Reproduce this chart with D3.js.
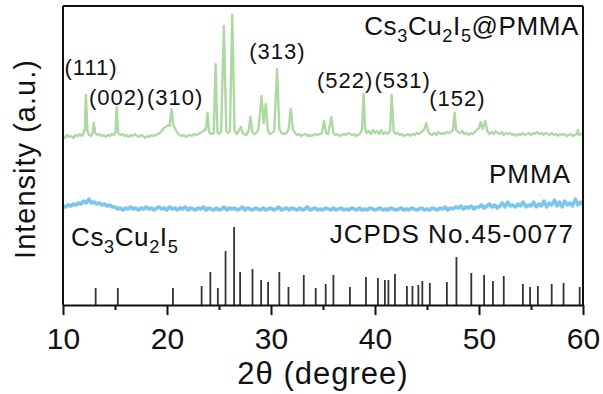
<!DOCTYPE html>
<html>
<head>
<meta charset="utf-8">
<script src="https://cdn.jsdelivr.net/npm/d3@7"></script>
<style>
  body { margin: 0; background: #fff; }
  text { font-family: "Liberation Sans", Arial, sans-serif; fill: #111; }
</style>
</head>
<body>
<div id="chart"></div>
<script>
// XRD patterns: Cs3Cu2I5@PMMA, PMMA and reference sticks

// Cs3Cu2I5@PMMA pattern, [2theta, intensity above its own baseline]
const compositeData = [
  [10.0, 1], [10.2, -1], [10.4, 2], [10.6, 0], [10.8, 1], [11.0, -1], [11.2, 2], [11.4, 1], [11.6, 3], [11.8, 1],
  [12.0, 4], [12.1, 8], [12.2, 42], [12.35, 6], [12.5, 2], [12.7, 1], [12.85, 4], [12.95, 14], [13.1, 4], [13.3, 2],
  [13.5, 3], [13.7, 1], [13.9, 2], [14.1, 0], [14.3, 2], [14.5, 1], [14.7, 3], [14.9, 2], [15.05, 5], [15.16, 30],
  [15.3, 4], [15.5, 2], [15.7, 3], [15.9, 1], [16.1, 2], [16.3, 0], [16.5, 2], [16.7, 1], [16.9, 3], [17.1, 1],
  [17.3, 0], [17.5, 2], [17.7, 1], [17.9, -1], [18.1, 1], [18.3, 0], [18.5, 2], [18.7, 1], [18.9, 2], [19.1, 3],
  [19.3, 4], [19.5, 6], [19.7, 9], [19.9, 10], [20.1, 12], [20.25, 11], [20.44, 28], [20.6, 12], [20.8, 8], [21.0, 4],
  [21.2, 2], [21.4, 1], [21.6, 2], [21.8, 0], [22.0, 1], [22.2, 2], [22.4, 1], [22.6, 3], [22.8, 2], [23.0, 3],
  [23.2, 4], [23.5, 6], [23.75, 8], [23.9, 24], [24.05, 5], [24.2, 3], [24.5, 4], [24.67, 73], [24.85, 5], [25.0, 3],
  [25.2, 5], [25.47, 111], [25.7, 6], [25.9, 4], [26.05, 6], [26.27, 122], [26.5, 6], [26.7, 3], [26.9, 6], [27.1, 10],
  [27.25, 4], [27.4, 3], [27.6, 2], [27.85, 6], [28.03, 20], [28.2, 5], [28.4, 3], [28.6, 4], [28.8, 8], [29.09, 41],
  [29.3, 14], [29.5, 33], [29.7, 6], [29.9, 3], [30.1, 4], [30.3, 6], [30.59, 68], [30.8, 8], [31.0, 4], [31.2, 3],
  [31.5, 4], [31.7, 8], [31.9, 28], [32.1, 8], [32.3, 4], [32.5, 2], [32.7, 3], [32.9, 1], [33.1, 2], [33.3, 3],
  [33.5, 1], [33.7, 2], [33.9, 1], [34.1, 2], [34.3, 3], [34.5, 2], [34.7, 3], [34.9, 4], [35.1, 16], [35.3, 4],
  [35.5, 3], [35.8, 20], [36.0, 4], [36.2, 2], [36.4, 3], [36.6, 1], [36.8, 2], [37.0, 3], [37.2, 2], [37.4, 4],
  [37.6, 3], [37.8, 2], [38.0, 3], [38.2, 1], [38.4, 2], [38.6, 4], [38.75, 8], [38.91, 43], [39.05, 8], [39.2, 4],
  [39.4, 6], [39.6, 3], [39.8, 7], [40.0, 4], [40.2, 6], [40.4, 3], [40.6, 7], [40.8, 3], [41.0, 5], [41.2, 3],
  [41.45, 6], [41.6, 42], [41.8, 5], [42.0, 3], [42.2, 4], [42.4, 2], [42.6, 3], [42.8, 1], [43.0, 2], [43.2, 3],
  [43.4, 1], [43.6, 3], [43.8, 2], [44.0, 4], [44.2, 3], [44.5, 5], [44.75, 8], [44.94, 14], [45.1, 6], [45.3, 3],
  [45.5, 2], [45.7, 4], [45.9, 2], [46.1, 5], [46.3, 3], [46.5, 4], [46.7, 3], [46.9, 5], [47.1, 4], [47.3, 5],
  [47.5, 7], [47.66, 24], [47.8, 7], [48.0, 5], [48.2, 4], [48.4, 6], [48.6, 3], [48.8, 4], [49.0, 2], [49.2, 4],
  [49.4, 3], [49.6, 5], [49.8, 7], [50.0, 9], [50.15, 15], [50.35, 8], [50.6, 16], [50.8, 6], [51.0, 3], [51.2, 5],
  [51.4, 3], [51.6, 6], [51.8, 4], [52.0, 3], [52.2, 5], [52.4, 2], [52.6, 4], [52.8, 3], [53.0, 4], [53.2, 2],
  [53.4, 3], [53.6, 1], [53.8, 3], [54.0, 2], [54.2, 4], [54.4, 2], [54.6, 3], [54.8, 4], [55.0, 2], [55.2, 4],
  [55.4, 3], [55.6, 5], [55.8, 3], [56.0, 4], [56.2, 2], [56.4, 4], [56.6, 3], [56.8, 2], [57.0, 4], [57.2, 2],
  [57.4, 3], [57.6, 1], [57.8, 3], [58.0, 2], [58.2, 3], [58.4, 1], [58.6, 2], [58.8, 3], [59.0, 1], [59.2, 2],
  [59.4, 3], [59.5, 7], [59.6, 2], [59.8, 3], [60.0, 2],
];

// PMMA pattern, sampled every 0.25 degree from 10 to 60
const pmmaStart = 10;
const pmmaStep = 0.25;
const pmmaValues = [
  4, 3, 5, 4, 6, 5, 7, 6, 9, 7, 11, 7, 8, 6, 7, 5, 6, 4, 5, 3,
  3, 1, 2, 0, 2, 1, 3, 1, 2, 0, 2, 1, 3, 1, 2, 0, 2, 3, 1, 2,
  0, 3, 1, 2, 0, 2, 1, 3, 0, 2, 1, 0, 2, 1, 3, 0, 2, 1, 0, 2,
  0, 1, 3, 0, 2, 1, 2, 0, 1, 3, 0, 2, 1, 0, 2, 1, 0, 2, 0, 1,
  2, 0, 1, 3, 0, 1, 2, 0, 2, 1, 0, 2, 0, 1, 3, 0, 1, 2, 0, 1,
  0, 2, 1, 0, 2, 0, 1, 2, 0, 1, 0, 2, 1, 0, 2, 0, 1, 0, 2, 1,
  0, 1, 2, 0, 1, 0, 2, 1, 0, 1, 2, 0, 1, 0, 2, 1, 0, 1, 2, 0,
  1, 0, 2, 1, 0, 2, 1, 3, 0, 2, 1, 3, 2, 4, 1, 3, 2, 4, 1, 3,
  3, 5, 2, 4, 6, 3, 5, 2, 4, 7, 3, 8, 4, 5, 3, 6, 4, 8, 3, 5,
  4, 8, 3, 6, 4, 9, 3, 7, 5, 10, 4, 8, 3, 9, 5, 7, 4, 11, 5, 8,
  5,
];

// JCPDS No.45-0077 reference lines
const refAngles = [
  13.14, 15.27, 20.57, 23.33, 24.17, 24.89, 25.63, 26.45, 27.03, 28.22,
  29.05, 29.72, 30.80, 31.68, 33.15, 34.30, 35.26, 36.00, 37.59, 39.13,
  40.28, 40.95, 41.29, 41.92, 43.07, 43.60, 44.17, 44.55, 45.27, 46.91,
  47.83, 49.26, 50.49, 51.34, 52.38, 54.22, 54.91, 55.66, 56.99, 58.13,
  59.68,
];
const refIntensity = [
  17, 17, 17, 19, 33, 17, 54, 78, 33, 36,
  25, 23, 33, 18, 30, 17, 21, 30, 18, 28,
  27, 25, 25, 31, 19, 19, 20, 24, 22, 23,
  48, 32, 30, 24, 29, 21, 18, 19, 21, 22,
  18,
];

// stacking offsets of the patterns
const compositeOffset = 168;
const pmmaOffset = 95;

// peak labels: [label, 2theta, height]
const peakLabels = [
  ['(111)', 10.15, 230],
  ['(002)', 12.5, 200],
  ['(310)', 18.08, 200],
  ['(313)', 27.9, 246],
  ['(522)', 34.42, 217],
  ['(531)', 39.95, 217],
  ['(152)', 45.22, 199],
];

const xTicks = [10, 20, 30, 40, 50, 60];
const xMinorTicks = [15, 25, 35, 45, 55];

const W = 603;
const H = 394;
const plot = { left: 63, right: 583, top: 6, bottom: 305 };

const svg = d3.select('#chart').append('svg')
  .attr('width', W)
  .attr('height', H);

const xScale = d3.scaleLinear().domain([10, 60]).range([plot.left, plot.right]);
const yScale = d3.scaleLinear().domain([0, 299]).range([plot.bottom, plot.top]);

const line = d3.line()
  .x(d => xScale(d[0]))
  .y(d => yScale(d[1]));

// reference sticks
svg.append('g')
  .selectAll('line')
  .data(refAngles)
  .join('line')
  .attr('x1', d => xScale(d))
  .attr('x2', d => xScale(d))
  .attr('y1', yScale(0))
  .attr('y2', (d, i) => yScale(refIntensity[i]))
  .attr('stroke', '#333')
  .attr('stroke-width', 1.8);

// PMMA trace
const pmmaData = pmmaValues.map((v, i) => [pmmaStart + i * pmmaStep, v + pmmaOffset]);
svg.append('path')
  .datum(pmmaData)
  .attr('fill', 'none')
  .attr('stroke', '#7cc6ee')
  .attr('stroke-width', 3.5)
  .attr('stroke-linejoin', 'round')
  .attr('d', line);

// composite trace
svg.append('path')
  .datum(compositeData.map(d => [d[0], d[1] + compositeOffset]))
  .attr('fill', 'none')
  .attr('stroke', '#acd9a2')
  .attr('stroke-width', 2.4)
  .attr('stroke-linejoin', 'round')
  .attr('d', line);

// frame
const frame = svg.append('g').attr('stroke', '#111').attr('stroke-width', 2);
frame.append('line').attr('x1', plot.left).attr('x2', plot.right).attr('y1', plot.top).attr('y2', plot.top);
frame.append('line').attr('x1', plot.left).attr('x2', plot.left).attr('y1', plot.top).attr('y2', plot.bottom);
frame.append('line').attr('x1', plot.right).attr('x2', plot.right).attr('y1', plot.top).attr('y2', plot.bottom);

// x axis, major and minor ticks
const xAxis = svg.append('g')
  .attr('transform', `translate(0,${plot.bottom})`)
  .call(d3.axisBottom(xScale).tickValues(xTicks).tickSize(10).tickSizeOuter(0).tickPadding(13));
xAxis.select('.domain').attr('stroke', '#111').attr('stroke-width', 2);
xAxis.selectAll('.tick line').attr('stroke', '#111').attr('stroke-width', 2);
xAxis.selectAll('.tick text')
  .attr('font-size', 30)
  .attr('font-family', '"Liberation Sans", Arial, sans-serif')
  .attr('fill', '#111');

const xMinor = svg.append('g')
  .attr('transform', `translate(0,${plot.bottom})`)
  .call(d3.axisBottom(xScale).tickValues(xMinorTicks).tickSize(5).tickFormat(''));
xMinor.select('.domain').remove();
xMinor.selectAll('.tick line').attr('stroke', '#111').attr('stroke-width', 2);
xMinor.selectAll('.tick text').remove();

// axis titles
svg.append('text')
  .attr('x', (plot.left + plot.right) / 2)
  .attr('y', 384)
  .attr('text-anchor', 'middle')
  .attr('font-size', 31)
  .attr('letter-spacing', 1)
  .text('2\u03b8 (degree)');

svg.append('text')
  .attr('transform', 'translate(35,159) rotate(-90)')
  .attr('text-anchor', 'middle')
  .attr('font-size', 29)
  .attr('letter-spacing', 1)
  .text('Intensity (a.u.)');

// formula label with subscripts: the shift is undone on the next part
function formula(t, parts, size) {
  let shift = 0;
  parts.forEach(p => {
    const span = t.append('tspan').text(p.t);
    if (p.sub) {
      span.attr('font-size', size * 0.7).attr('dy', 7);
      shift = 7;
    } else if (shift) {
      span.attr('dy', -shift);
      shift = 0;
    }
  });
}

const compositeLabel = svg.append('text')
  .attr('x', 579)
  .attr('y', 35)
  .attr('text-anchor', 'end')
  .attr('font-size', 26)
  .attr('letter-spacing', 0.6);
formula(compositeLabel, [
  { t: 'Cs' }, { t: '3', sub: true }, { t: 'Cu' }, { t: '2', sub: true },
  { t: 'I' }, { t: '5', sub: true }, { t: '@PMMA' },
], 26);

svg.append('text')
  .attr('x', 571)
  .attr('y', 183)
  .attr('text-anchor', 'end')
  .attr('font-size', 26)
  .attr('letter-spacing', 1)
  .text('PMMA');

svg.append('text')
  .attr('x', 574)
  .attr('y', 243)
  .attr('text-anchor', 'end')
  .attr('font-size', 26)
  .attr('letter-spacing', 1)
  .text('JCPDS No.45-0077');

const refLabel = svg.append('text')
  .attr('x', 71)
  .attr('y', 246)
  .attr('font-size', 26)
  .attr('letter-spacing', 0.6);
formula(refLabel, [
  { t: 'Cs' }, { t: '3', sub: true }, { t: 'Cu' }, { t: '2', sub: true },
  { t: 'I' }, { t: '5', sub: true },
], 26);

// peak index labels
svg.append('g')
  .selectAll('text')
  .data(peakLabels)
  .join('text')
  .attr('x', d => xScale(d[1]))
  .attr('y', d => yScale(d[2]))
  .attr('font-size', 22)
  .attr('letter-spacing', 1)
  .text(d => d[0]);
</script>
</body>
</html>
